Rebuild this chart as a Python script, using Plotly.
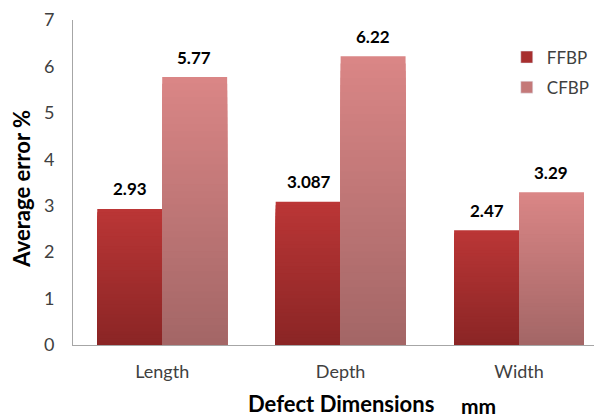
import plotly.graph_objects as go

categories = ["Length", "Depth", "Width"]
ffbp = [2.93, 3.087, 2.47]
cfbp = [5.77, 6.22, 3.29]
ffbp_labels = ["2.93", "3.087", "2.47"]
cfbp_labels = ["5.77", "6.22", "3.29"]
y_ticks = [0, 1, 2, 3, 4, 5, 6, 7]

FONT = "Lato, 'Open Sans', sans-serif"
N = 40  # gradient steps per bar


def mix(c0, c1, f):
    return "rgb(%d,%d,%d)" % tuple(round(a + (b - a) * f) for a, b in zip(c0, c1))


series = [
    ("FFBP", ffbp, ffbp_labels, (138, 37, 37), (187, 54, 54), -1),
    ("CFBP", cfbp, cfbp_labels, (163, 102, 102), (218, 134, 134), 1),
]

fig = go.Figure()
annotations = []
for name, vals, labels, bottom, top, side in series:
    # overlapping bars, tallest (top colour) first, shorter darker ones on top
    for i in range(N, 0, -1):
        f = (i - 0.5) / N if i < N else 1.0
        fig.add_trace(go.Bar(
            x=categories,
            y=[v * i / N for v in vals],
            offsetgroup=name,
            marker=dict(color=mix(bottom, top, f), line=dict(width=0)),
            showlegend=False,
            hoverinfo="skip",
        ))
    fig.add_trace(go.Bar(
        x=categories, y=[None] * len(categories), name=name,
        offsetgroup=name, legendgroup=name,
        marker=dict(color=mix(bottom, top, 0.6)),
        showlegend=True,
    ))
    for c, v, t in zip(categories, vals, labels):
        annotations.append(dict(
            x=c, y=v, xref="x", yref="y", text="<b>%s</b>" % t,
            showarrow=False, xshift=side * 32, yshift=20,
            xanchor="center", yanchor="middle",
            font=dict(family=FONT, size=17, color="#000000"),
        ))

annotations += [
    dict(text="<b>Average error %</b>", xref="paper", yref="paper",
         x=-0.099, y=0.48, xanchor="center", yanchor="middle", textangle=-90,
         showarrow=False, font=dict(size=22, color="#000000", family=FONT)),
    dict(text="<b>Defect Dimensions</b>", xref="paper", yref="paper",
         x=0.507, y=-0.181, xanchor="center", yanchor="middle",
         showarrow=False, font=dict(size=22, color="#000000", family=FONT)),
    dict(text="<b>mm</b>", xref="paper", yref="paper",
         x=0.766, y=-0.187, xanchor="center", yanchor="middle",
         showarrow=False, font=dict(size=21, color="#000000", family=FONT)),
]

fig.update_layout(
    width=594, height=409,
    margin=dict(l=65, r=0, t=12, b=72, autoexpand=False),
    paper_bgcolor="white", plot_bgcolor="white",
    barmode="group", bargap=0.272, bargroupgap=0,
    font=dict(family=FONT, color="#404040", size=17),
    legend=dict(
        x=0.82, y=0.94, xanchor="left", yanchor="top",
        font=dict(size=17, color="#404040"),
        bgcolor="rgba(0,0,0,0)",
        tracegroupgap=5, traceorder="grouped",
    ),
    xaxis=dict(
        range=[-0.5, 2.465], showgrid=False, showline=True,
        linecolor="#a6a6a6", linewidth=1, ticks="",
        tickfont=dict(size=18, color="#404040"), ticklabelstandoff=10,
    ),
    yaxis=dict(
        range=[0, 7], tickvals=y_ticks, showgrid=False, showline=True,
        linecolor="#a6a6a6", linewidth=1, ticks="", zeroline=False,
        tickfont=dict(size=18, color="#404040"), ticklabelstandoff=14,
        ticklabeloverflow="allow",
    ),
    annotations=annotations,
)

fig.write_html("out.html")
